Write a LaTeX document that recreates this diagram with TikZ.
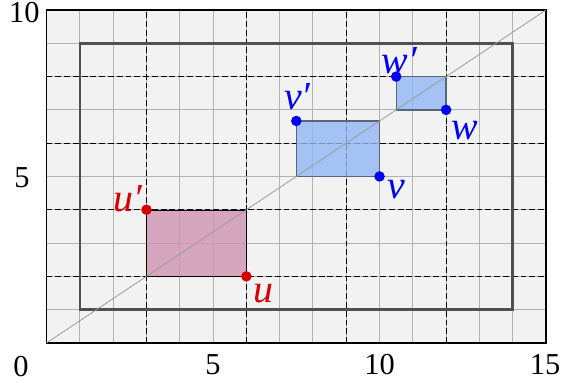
\documentclass[tikz,border=0pt]{standalone}
\usepackage{fontspec}
\setmainfont{Liberation Serif}
\newfontfamily\lserif{Liberation Serif}
\definecolor{bgc}{RGB}{242,242,242}
\definecolor{gridc}{RGB}{178,178,178}
\definecolor{framec}{RGB}{80,80,80}
\definecolor{pinkc}{RGB}{206,147,176}
\definecolor{bluec}{RGB}{145,182,244}
\definecolor{edgec}{RGB}{90,100,120}
\definecolor{ptred}{RGB}{215,0,0}
\definecolor{ptblue}{RGB}{0,0,245}
\tikzset{
  finegrid/.style={draw=gridc, line width=0.9pt},
  dashgrid/.style={draw=black, line width=0.9pt, dash pattern=on 5pt off 2.5pt},
  outerframe/.style={draw=black, line width=1.2pt},
  innerframe/.style={draw=framec, line width=2.4pt},
  diag/.style={draw=black!40, line width=0.7pt},
  redbox/.style={fill=pinkc, fill opacity=0.8},
  bluebox/.style={fill=bluec, fill opacity=0.8, draw=edgec, draw opacity=1, line width=1.1pt},
  reddot/.style={circle, fill=ptred, inner sep=0pt, minimum size=9pt},
  bluedot/.style={circle, fill=ptblue, inner sep=0pt, minimum size=9pt},
  redlab/.style={text=ptred, font=\lserif\fontsize{34}{38}\selectfont\itshape, inner sep=0pt},
  bluelab/.style={text=ptblue, font=\lserif\fontsize{34}{38}\selectfont\itshape, inner sep=0pt},
  ticklab/.style={font=\lserif\fontsize{26}{30}\selectfont, inner sep=0pt}
}
\begin{document}
\begin{tikzpicture}
\useasboundingbox (-1.4,-1.2) rectangle (15.45,10.3);
\fill[bgc] (0,0) rectangle (15,10);
\draw[finegrid] (0,0) grid[step=1] (15,10);
\foreach \x in {3,6,9,12} \draw[dashgrid] (\x,0) -- (\x,10);
\foreach \y in {2,4,6,8} \draw[dashgrid] (0,\y) -- (15,\y);
\draw[redbox] (3,2) rectangle (6,4);
\draw[bluebox] (7.5,5) rectangle (10,20/3);
\draw[bluebox] (10.5,7) rectangle (12,8);
\draw[innerframe] (1,1) rectangle (14,9);
\draw[outerframe] (0,0) rectangle (15,10);
\coordinate (o) at (0,0);
\coordinate (e) at (15,10);
\draw[diag] (o) -- (e);
\node[reddot] (u) at (6,2) {};
\node[reddot] (up) at (3,4) {};
\node[bluedot] (v) at (10,5) {};
\node[bluedot] (vp) at (7.5,20/3) {};
\node[bluedot] (w) at (12,7) {};
\node[bluedot] (wp) at (10.5,8) {};
\node[redlab] (ul) at (6.52,1.47) {u};
\node[redlab] (upl) at (2.44,4.32) {u′};
\node[bluelab] (vl) at (10.49,4.62) {v};
\node[bluelab] (vpl) at (7.53,7.40) {v′};
\node[bluelab] (wl) at (12.56,6.37) {w};
\node[bluelab] (wpl) at (10.6,8.48) {w′};
\node[ticklab] (x0) at (-0.77,-0.72) {0};
\node[ticklab] (x5) at (5,-0.66) {5};
\node[ticklab] (x10) at (10,-0.66) {10};
\node[ticklab] (x15) at (14.97,-0.66) {15};
\node[ticklab] (y5) at (-0.74,4.95) {5};
\node[ticklab] (y10) at (-0.67,9.91) {10};
\end{tikzpicture}
\end{document}
